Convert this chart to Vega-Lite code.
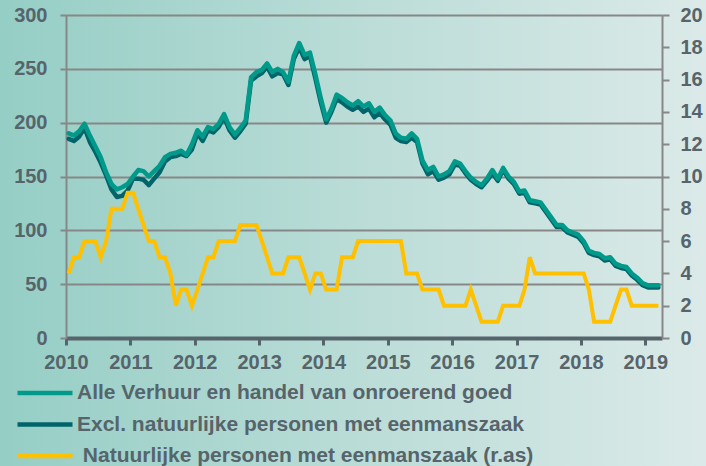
{
  "$schema": "https://vega.github.io/schema/vega-lite/v6.json",
  "width": 706,
  "height": 466,
  "autosize": {"type": "none"},
  "padding": 0,
  "background": "#b9dcd7",
  "config": {
    "view": {"stroke": null, "fill": {"gradient": "linear", "x1": 0, "y1": 0, "x2": 1, "y2": 0, "stops": [{"offset": 0, "color": "#95cec5"}, {"offset": 0.5, "color": "#badcd7"}, {"offset": 1, "color": "#dbeae8"}]}},
    "font": "Liberation Sans"
  },
  "data": {"values": [
    {"d":"2010-01","a":190,"e":185,"n":4},{"d":"2010-02","a":188,"e":183,"n":5},{"d":"2010-03","a":192,"e":187,"n":5},{"d":"2010-04","a":199,"e":195,"n":6},
    {"d":"2010-05","a":188,"e":182,"n":6},{"d":"2010-06","a":178,"e":173,"n":6},{"d":"2010-07","a":168,"e":163,"n":5},{"d":"2010-08","a":154,"e":151,"n":6},
    {"d":"2010-09","a":143,"e":138,"n":8},{"d":"2010-10","a":138,"e":131,"n":8},{"d":"2010-11","a":140,"e":132,"n":8},{"d":"2010-12","a":143,"e":137,"n":9},
    {"d":"2011-01","a":150,"e":148,"n":9},{"d":"2011-02","a":156,"e":148,"n":8},{"d":"2011-03","a":155,"e":147,"n":7},{"d":"2011-04","a":150,"e":142,"n":6},
    {"d":"2011-05","a":155,"e":148,"n":6},{"d":"2011-06","a":160,"e":154,"n":5},{"d":"2011-07","a":168,"e":164,"n":5},{"d":"2011-08","a":171,"e":168,"n":4},
    {"d":"2011-09","a":172,"e":169,"n":2},{"d":"2011-10","a":174,"e":171,"n":3},{"d":"2011-11","a":170,"e":169,"n":3},{"d":"2011-12","a":180,"e":175,"n":2},
    {"d":"2012-01","a":193,"e":190,"n":3},{"d":"2012-02","a":187,"e":183,"n":4},{"d":"2012-03","a":196,"e":193,"n":5},{"d":"2012-04","a":194,"e":191,"n":5},
    {"d":"2012-05","a":199,"e":196,"n":6},{"d":"2012-06","a":208,"e":205,"n":6},{"d":"2012-07","a":196,"e":193,"n":6},{"d":"2012-08","a":189,"e":186,"n":6},
    {"d":"2012-09","a":195,"e":192,"n":7},{"d":"2012-10","a":202,"e":199,"n":7},{"d":"2012-11","a":242,"e":239,"n":7},{"d":"2012-12","a":247,"e":243,"n":7},
    {"d":"2013-01","a":249,"e":246,"n":6},{"d":"2013-02","a":255,"e":252,"n":5},{"d":"2013-03","a":247,"e":243,"n":4},{"d":"2013-04","a":250,"e":246,"n":4},
    {"d":"2013-05","a":247,"e":245,"n":4},{"d":"2013-06","a":238,"e":235,"n":5},{"d":"2013-07","a":262,"e":259,"n":5},{"d":"2013-08","a":274,"e":270,"n":5},
    {"d":"2013-09","a":263,"e":259,"n":4},{"d":"2013-10","a":265,"e":262,"n":3},{"d":"2013-11","a":245,"e":241,"n":4},{"d":"2013-12","a":223,"e":219,"n":4},
    {"d":"2014-01","a":203,"e":200,"n":3},{"d":"2014-02","a":213,"e":210,"n":3},{"d":"2014-03","a":226,"e":222,"n":3},{"d":"2014-04","a":223,"e":219,"n":5},
    {"d":"2014-05","a":219,"e":215,"n":5},{"d":"2014-06","a":216,"e":212,"n":5},{"d":"2014-07","a":220,"e":215,"n":6},{"d":"2014-08","a":215,"e":210,"n":6},
    {"d":"2014-09","a":218,"e":213,"n":6},{"d":"2014-10","a":210,"e":205,"n":6},{"d":"2014-11","a":214,"e":209,"n":6},{"d":"2014-12","a":207,"e":203,"n":6},
    {"d":"2015-01","a":202,"e":198,"n":6},{"d":"2015-02","a":190,"e":186,"n":6},{"d":"2015-03","a":186,"e":183,"n":6},{"d":"2015-04","a":185,"e":182,"n":4},
    {"d":"2015-05","a":190,"e":186,"n":4},{"d":"2015-06","a":185,"e":182,"n":4},{"d":"2015-07","a":165,"e":162,"n":3},{"d":"2015-08","a":156,"e":152,"n":3},
    {"d":"2015-09","a":159,"e":155,"n":3},{"d":"2015-10","a":150,"e":147,"n":3},{"d":"2015-11","a":152,"e":149,"n":2},{"d":"2015-12","a":155,"e":152,"n":2},
    {"d":"2016-01","a":164,"e":161,"n":2},{"d":"2016-02","a":162,"e":160,"n":2},{"d":"2016-03","a":155,"e":153,"n":2},{"d":"2016-04","a":149,"e":147,"n":3},
    {"d":"2016-05","a":145,"e":143,"n":2},{"d":"2016-06","a":142,"e":140,"n":1},{"d":"2016-07","a":148,"e":146,"n":1},{"d":"2016-08","a":156,"e":153,"n":1},
    {"d":"2016-09","a":148,"e":146,"n":1},{"d":"2016-10","a":158,"e":156,"n":2},{"d":"2016-11","a":150,"e":148,"n":2},{"d":"2016-12","a":145,"e":143,"n":2},
    {"d":"2017-01","a":136,"e":134,"n":2},{"d":"2017-02","a":137,"e":135,"n":3},{"d":"2017-03","a":128,"e":126,"n":5},{"d":"2017-04","a":127,"e":125,"n":4},
    {"d":"2017-05","a":126,"e":124,"n":4},{"d":"2017-06","a":119,"e":117,"n":4},{"d":"2017-07","a":112,"e":110,"n":4},{"d":"2017-08","a":105,"e":103,"n":4},
    {"d":"2017-09","a":105,"e":103,"n":4},{"d":"2017-10","a":100,"e":98,"n":4},{"d":"2017-11","a":98,"e":96,"n":4},{"d":"2017-12","a":96,"e":94,"n":4},
    {"d":"2018-01","a":90,"e":88,"n":4},{"d":"2018-02","a":81,"e":79,"n":3},{"d":"2018-03","a":79,"e":77,"n":1},{"d":"2018-04","a":78,"e":76,"n":1},
    {"d":"2018-05","a":74,"e":72,"n":1},{"d":"2018-06","a":75,"e":73,"n":1},{"d":"2018-07","a":69,"e":67,"n":2},{"d":"2018-08","a":67,"e":65,"n":3},
    {"d":"2018-09","a":66,"e":64,"n":3},{"d":"2018-10","a":60,"e":58,"n":2},{"d":"2018-11","a":56,"e":54,"n":2},{"d":"2018-12","a":51,"e":49,"n":2},
    {"d":"2019-01","a":49,"e":47,"n":2},{"d":"2019-02","a":49,"e":47,"n":2},{"d":"2019-03","a":49,"e":47,"n":2}
  ]},
  "transform": [{"fold": ["a", "e", "n"], "as": ["s", "v"]}],
  "encoding": {
    "x": {
      "field": "d", "timeUnit": "utcyearmonth", "type": "temporal", "bandPosition": 0.5,
      "scale": {"type": "utc", "nice": false, "range": [66, 662],
        "domain": [{"year": 2010, "month": 1, "date": 1, "utc": true}, {"year": 2019, "month": 4, "date": 6, "utc": true}]},
      "axis": {"orient": "bottom", "offset": -128, "format": "%Y", "tickCount": {"interval": "year", "step": 1},
        "title": null, "grid": false, "labelFontSize": 20, "labelFontWeight": "bold", "labelColor": "#56646b",
        "labelPadding": 7, "tickSize": 7, "tickWidth": 3, "tickColor": "#56646b", "domainColor": "#56646b", "domainWidth": 4,
        "labelFlush": false, "labelOverlap": false}
    },
    "color": {
      "field": "s", "type": "nominal",
      "scale": {"domain": ["a", "e", "n"], "range": ["#009a8b", "#00656a", "#ffc000"]},
      "legend": {
        "orient": "none", "legendX": 15, "legendY": 382.5, "title": null, "padding": 0,
        "symbolType": "stroke", "symbolSize": 3025, "symbolStrokeWidth": 4.5, "clipHeight": 21,
        "labelFontSize": 21, "labelFontWeight": "bold", "labelColor": "#56646b", "labelLimit": 700,
        "labelOffset": 2, "rowPadding": 9.5,
        "labelExpr": "datum.label == 'a' ? 'Alle Verhuur en handel van onroerend goed' : datum.label == 'e' ? 'Excl. natuurlijke personen met eenmanszaak' : '\u200b\u00a0Natuurlijke personen met eenmanszaak (r.as)'"
      }
    }
  },
  "layer": [
    {
      "layer": [
        {
          "transform": [{"filter": "datum.s == 'e'"}],
          "mark": {"type": "line", "strokeWidth": 4.5, "strokeJoin": "round", "strokeCap": "round"},
          "encoding": {
            "y": {"field": "v", "type": "quantitative",
              "scale": {"domain": [0, 300], "range": [338, 15], "nice": false, "zero": true},
              "axis": {"orient": "left", "offset": -66, "values": [0, 50, 100, 150, 200, 250, 300], "title": null,
                "grid": true, "gridColor": "#878787", "gridWidth": 2, "domainColor": "#878787", "domainWidth": 2,
                "tickColor": "#878787", "tickWidth": 2, "tickSize": 6, "labelPadding": 13,
                "labelFontSize": 20, "labelFontWeight": "bold", "labelColor": "#56646b"}}
          }
        },
        {
          "transform": [{"filter": "datum.s == 'a'"}],
          "mark": {"type": "line", "strokeWidth": 4.5, "strokeJoin": "round", "strokeCap": "round"},
          "encoding": {
            "y": {"field": "v", "type": "quantitative",
              "scale": {"domain": [0, 300], "range": [338, 15], "nice": false, "zero": true},
              "axis": {"orient": "left", "offset": -66, "values": [0, 50, 100, 150, 200, 250, 300], "title": null,
                "grid": true, "gridColor": "#878787", "gridWidth": 2, "domainColor": "#878787", "domainWidth": 2,
                "tickColor": "#878787", "tickWidth": 2, "tickSize": 6, "labelPadding": 13,
                "labelFontSize": 20, "labelFontWeight": "bold", "labelColor": "#56646b"}}
          }
        }
      ]
    },
    {
      "transform": [{"filter": "datum.s == 'n'"}],
      "mark": {"type": "line", "strokeWidth": 4, "strokeJoin": "miter"},
      "encoding": {
        "y": {"field": "v", "type": "quantitative",
          "scale": {"domain": [0, 20], "range": [338, 15], "nice": false},
          "axis": {"orient": "right", "offset": -44, "values": [0, 2, 4, 6, 8, 10, 12, 14, 16, 18, 20], "title": null,
            "grid": false, "domainColor": "#878787", "domainWidth": 2,
            "tickColor": "#878787", "tickWidth": 2, "tickSize": 7, "labelPadding": 11,
            "labelFontSize": 20, "labelFontWeight": "bold", "labelColor": "#56646b"}}
      }
    }
  ],
  "resolve": {"scale": {"y": "independent"}}
}
